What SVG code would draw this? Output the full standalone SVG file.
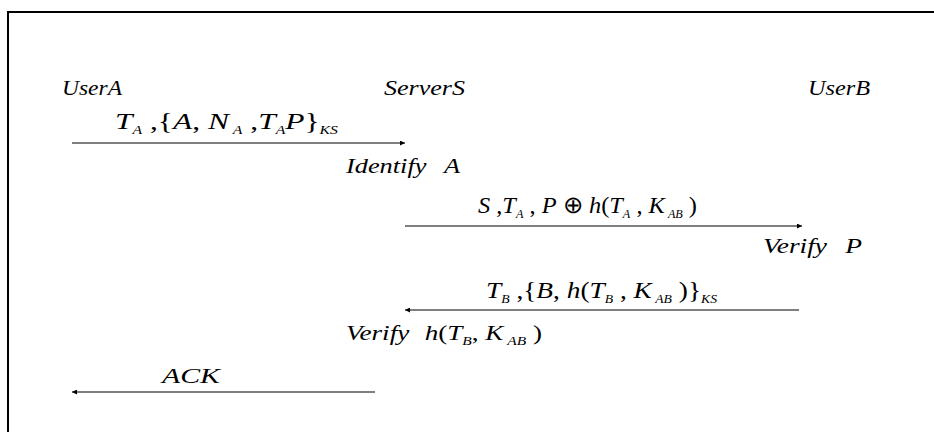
<svg xmlns="http://www.w3.org/2000/svg" width="934" height="432" viewBox="0 0 934 432">
<style>
.t{font-style:italic;font-size:21px;fill:#000}
.m{font-size:24px}
.n{font-style:normal}
.s{font-size:12px}
.ln{stroke:#000;stroke-width:1.2;fill:none}
</style>
<defs>
<marker id="ah" viewBox="0 0 6 6" refX="6" refY="3" markerWidth="5" markerHeight="5" orient="auto" markerUnits="userSpaceOnUse">
<path d="M0,0 L6,3 L0,6 z" fill="#000"/>
</marker>
</defs>
<rect x="0" y="0" width="934" height="432" fill="#fff"/>
<path d="M8,432 V12 H934" stroke="#000" stroke-width="2" fill="none"/>
<g font-family="Liberation Serif, Times New Roman, serif">
<g id="userA"><text class="t" x="62" y="95" textLength="60" lengthAdjust="spacingAndGlyphs">UserA</text></g>
<g id="serverS"><text class="t" x="384" y="95" textLength="81" lengthAdjust="spacingAndGlyphs">ServerS</text></g>
<g id="userB"><text class="t" x="808" y="95" textLength="62" lengthAdjust="spacingAndGlyphs">UserB</text></g>
<g id="identifyA"><text class="t" x="346" y="173" textLength="114" lengthAdjust="spacingAndGlyphs">Identify<tspan dx="14">A</tspan></text></g>
<g id="verifyP"><text class="t" x="763" y="253" textLength="99" lengthAdjust="spacingAndGlyphs">Verify<tspan dx="14">P</tspan></text></g>
<g id="verifyH"><text class="t" x="346" y="340" textLength="196" lengthAdjust="spacingAndGlyphs">Verify<tspan dx="12">h</tspan><tspan class="n">(</tspan>T<tspan class="s" dy="5">B</tspan><tspan class="n" dy="-5">, </tspan>K<tspan class="s" dx="3" dy="5">AB</tspan><tspan class="n" dy="-5"> )</tspan></text></g>
<g id="connectors">
<line class="ln" x1="72" y1="143" x2="405" y2="143" marker-end="url(#ah)"/>
<line class="ln" x1="405" y1="226" x2="802" y2="226" marker-end="url(#ah)"/>
<line class="ln" x1="799" y1="310" x2="405" y2="310" marker-end="url(#ah)"/>
<line class="ln" x1="375" y1="392" x2="72" y2="392" marker-end="url(#ah)"/>
<text class="t m" x="115" y="129" textLength="223" lengthAdjust="spacingAndGlyphs">T<tspan class="s" dy="5">A</tspan><tspan class="n" dy="-5"> ,{</tspan>A<tspan class="n">, </tspan>N<tspan class="s" dx="3" dy="5">A</tspan><tspan class="n" dy="-5"> ,</tspan>T<tspan class="s" dy="5">A</tspan><tspan dy="-5">P</tspan><tspan class="n">}</tspan><tspan class="s" dy="5">KS</tspan></text>
<text class="t m" x="478" y="213" textLength="219" lengthAdjust="spacingAndGlyphs">S<tspan class="n"> ,</tspan>T<tspan class="s" dy="5">A</tspan><tspan class="n" dy="-5"> , </tspan>P<tspan class="n"> ⊕ </tspan>h<tspan class="n">(</tspan>T<tspan class="s" dy="5">A</tspan><tspan class="n" dy="-5"> , </tspan>K<tspan class="s" dx="3" dy="5">AB</tspan><tspan class="n" dy="-5"> )</tspan></text>
<text class="t m" x="486" y="298" textLength="231" lengthAdjust="spacingAndGlyphs">T<tspan class="s" dy="5">B</tspan><tspan class="n" dy="-5"> ,{</tspan>B<tspan class="n">, </tspan>h<tspan class="n">(</tspan>T<tspan class="s" dy="5">B</tspan><tspan class="n" dy="-5"> , </tspan>K<tspan class="s" dx="3" dy="5">AB</tspan><tspan class="n" dy="-5"> )}</tspan><tspan class="s" dy="5">KS</tspan></text>
<text class="t" x="162" y="383" textLength="58" lengthAdjust="spacingAndGlyphs">ACK</text>
</g>
</g>
</svg>
